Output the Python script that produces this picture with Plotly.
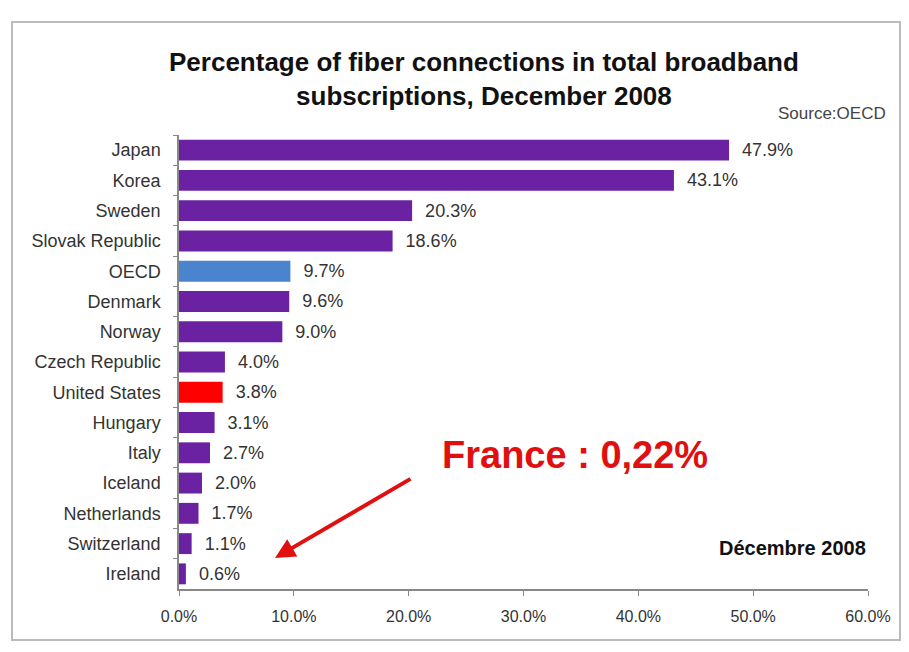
import plotly.graph_objects as go

countries = ["Japan", "Korea", "Sweden", "Slovak Republic", "OECD", "Denmark", "Norway",
             "Czech Republic", "United States", "Hungary", "Italy", "Iceland",
             "Netherlands", "Switzerland", "Ireland"]
values = [47.9, 43.1, 20.3, 18.6, 9.7, 9.6, 9.0, 4.0, 3.8, 3.1, 2.7, 2.0, 1.7, 1.1, 0.6]
colors = ["#6A22A2"] * len(countries)
colors[countries.index("OECD")] = "#4A84CF"
colors[countries.index("United States")] = "#FF0000"
x_ticks = [0, 10, 20, 30, 40, 50, 60]
x_tick_labels = ["0.0%", "10.0%", "20.0%", "30.0%", "40.0%", "50.0%", "60.0%"]

O = 8  # page body margin
W, H = 909 - O, 652 - 2 * O
# plot area in page pixels
L, R, T, B = 179, 868, 135, 589
FONT = "Liberation Sans, Arial, sans-serif"


def px(x):
    return (x - L) / (R - L)


def py(y):
    return (B - y) / (B - T)


fig = go.Figure(go.Bar(
    x=values, y=countries, orientation="h",
    marker=dict(color=colors, line=dict(width=0)),
    width=0.69,
    texttemplate="\u00a0\u00a0%{x:.1f}%",
    textposition="outside",
    cliponaxis=False,
    textfont=dict(family=FONT, size=18, color="#333333"),
    hoverinfo="skip",
))

fig.update_layout(
    width=W, height=H,
    margin=dict(l=L - O, r=W - (R - O), t=T - O, b=H - (B - O)),
    paper_bgcolor="white", plot_bgcolor="white",
    showlegend=False,
    font=dict(family=FONT, color="#333333"),
    xaxis=dict(
        range=[0, 60], tickvals=x_ticks, ticktext=x_tick_labels,
        showgrid=False, zeroline=False,
        showline=True, linecolor="#888888", linewidth=1.5,
        ticks="outside", ticklen=5, tickcolor="#888888",
        tickfont=dict(size=16, color="#333333"),
        ticklabelstandoff=7,
        fixedrange=True,
    ),
    yaxis=dict(
        autorange="reversed", showgrid=False,
        showline=True, linecolor="#888888", linewidth=1.5,
        ticks="outside", ticklen=4, tickcolor="#888888", tickson="boundaries",
        tickfont=dict(size=18, color="#333333"),
        ticklabelstandoff=13,
        fixedrange=True,
    ),
    shapes=[dict(
        type="rect", xref="paper", yref="paper",
        x0=px(12), x1=px(900), y0=py(640), y1=py(22),
        line=dict(color="#BBBBBB", width=2), fillcolor="rgba(0,0,0,0)", layer="below",
    )],
    annotations=[
        dict(text="<b>Percentage of fiber connections in total broadband<br>subscriptions, December 2008</b>",
             xref="paper", yref="paper", x=px(484), y=py(79),
             xanchor="center", yanchor="middle", showarrow=False,
             font=dict(size=26, color="#111111")),
        dict(text="Source:OECD", xref="paper", yref="paper", x=px(888), y=py(113),
             xanchor="right", yanchor="middle", showarrow=False,
             font=dict(size=17, color="#444444")),
        dict(text="<b>France : 0,22%</b>", xref="paper", yref="paper", x=px(575), y=py(455),
             xanchor="center", yanchor="middle", showarrow=False,
             font=dict(size=38, color="#E01010")),
        dict(text="", xref="paper", yref="paper", x=px(275), y=py(558),
             ax=412 - 275, ay=478 - 558, showarrow=True,
             arrowhead=2, arrowsize=1, arrowwidth=4, arrowcolor="#E01010"),
        dict(text="<b>Décembre 2008</b>", xref="paper", yref="paper", x=px(868), y=py(548),
             xanchor="right", yanchor="middle", showarrow=False,
             font=dict(size=20, color="#111111")),
    ],
)

fig.write_html("out.html")
